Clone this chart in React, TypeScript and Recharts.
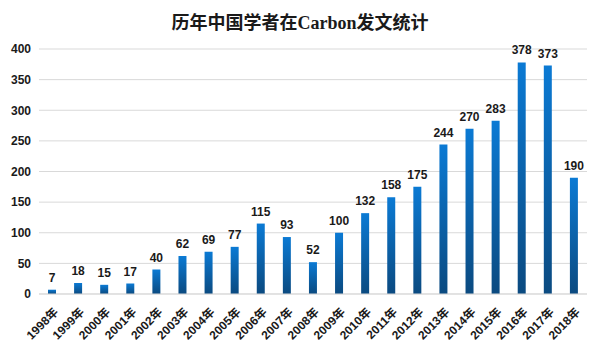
import { BarChart, Bar, XAxis, YAxis, CartesianGrid, LabelList } from "recharts";

const years = [
  "1998年", "1999年", "2000年", "2001年", "2002年", "2003年", "2004年",
  "2005年", "2006年", "2007年", "2008年", "2009年", "2010年", "2011年",
  "2012年", "2013年", "2014年", "2015年", "2016年", "2017年", "2018年",
];
const papers = [7, 18, 15, 17, 40, 62, 69, 77, 115, 93, 52, 100, 132, 158, 175, 244, 270, 283, 378, 373, 190];
const yTicks = [0, 50, 100, 150, 200, 250, 300, 350, 400];

const font = "'Liberation Sans', Arial, 'Noto Sans CJK SC', sans-serif";

const YearTick = (props: any) => {
  const { x, y, payload } = props;
  return (
    <g transform={`translate(${x + 4},${y + 8})`}>
      <text
        textAnchor="end"
        transform="rotate(-45)"
        fontSize={12}
        fontWeight="bold"
        fill="#1a1a1a"
        fontFamily={font}
        dy={4}
      >
        {payload.value}
      </text>
    </g>
  );
};

const App = () => {
  const data = years.map((name, i) => ({ name, value: papers[i] }));

  return (
    <div style={{ margin: -8, width: 598, height: 353, border: "1px solid #d8d8d8", background: "#fff", position: "relative" }}>
      <div
        style={{
          position: "absolute",
          top: 7,
          width: "100%",
          textAlign: "center",
          fontFamily: "'Liberation Serif', 'Noto Sans CJK SC', serif",
          fontWeight: "bold",
          fontSize: 18,
          color: "#1a1a1a",
        }}
      >
        历年中国学者在Carbon发文统计
      </div>
      <BarChart
        width={598}
        height={353}
        data={data}
        margin={{ top: 48, right: 12, left: 0, bottom: 0 }}
      >
        <CartesianGrid vertical={false} stroke="#d9d9d9" />
        <defs>
          <linearGradient id="barFill" x1="0" y1="0" x2="0" y2="1">
            <stop offset="0%" stopColor="#0b7ad4" />
            <stop offset="100%" stopColor="#0b4a80" />
          </linearGradient>
        </defs>
        <XAxis
          dataKey="name"
          interval={0}
          height={60}
          tickLine={false}
          axisLine={{ stroke: "#d9d9d9" }}
          tick={<YearTick />}
        />
        <YAxis
          width={38}
          domain={[0, 400]}
          ticks={yTicks}
          tickLine={false}
          axisLine={false}
          tick={{ fontSize: 12, fontWeight: "bold", fill: "#1a1a1a", fontFamily: font }}
        />
        <Bar dataKey="value" barSize={8} fill="url(#barFill)" isAnimationActive={false}>
          <LabelList
            dataKey="value"
            position="top"
            offset={8}
            style={{ fontSize: 12, fontWeight: "bold", fill: "#1a1a1a", fontFamily: font }}
          />
        </Bar>
      </BarChart>
    </div>
  );
};

export default App;
